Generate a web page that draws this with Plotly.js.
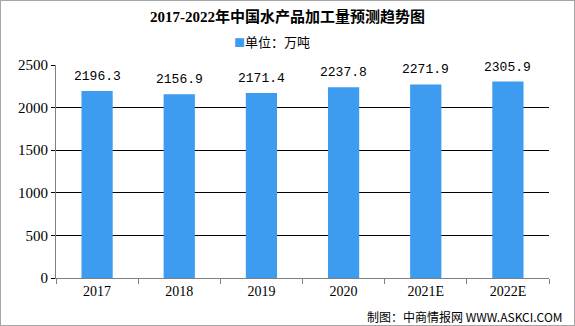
<!DOCTYPE html>
<html><head><meta charset="utf-8">
<script src="https://cdn.plot.ly/plotly-3.0.1.min.js"></script>
<style>
html,body{margin:0;padding:0;background:#fff;}
#wrap{width:575px;height:326px;box-sizing:border-box;border:1px solid #a6a6a6;overflow:hidden;}
#chart{width:573px;height:324px;}
</style></head>
<body><div id="wrap"><div id="chart"></div></div>
<script>
const categories = ["2017","2018","2019","2020","2021E","2022E"];
const values = [2196.3, 2156.9, 2171.4, 2237.8, 2271.9, 2305.9];
const valueLabels = ["2196.3","2156.9","2171.4","2237.8","2271.9","2305.9"];
const yTicks = [0,500,1000,1500,2000,2500];
const seriesName = "单位：万吨";
const titleText = "2017-2022年中国水产品加工量预测趋势图";
const creditText = "制图：中商情报网 WWW.ASKCI.COM";
const barColor = "#3d9bf0";

const trace = {
  type: "bar",
  x: categories,
  y: values,
  name: seriesName,
  marker: {color: barColor},
  width: 0.38,
  showlegend: false
};

const annotations = categories.map((c,i)=>({
  x: i, y: values[i], xref: "x", yref: "y",
  text: valueLabels[i], showarrow: false,
  yanchor: "bottom", yshift: 5,
  font: {family: "Liberation Mono, monospace", size: 13, color: "#000"}
}));
// legend drawn as annotation (compact marker + text like the reference)
annotations.push({
  xref: "paper", yref: "paper", x: 0.358, y: 1.108,
  xanchor: "left", yanchor: "middle",
  text: "<span style='color:" + barColor + ";font-size:11px'>■</span>" + seriesName,
  showarrow: false,
  font: {family: "Noto Sans CJK SC, sans-serif", size: 13, color: "#000"}
});
annotations.push({
  xref: "paper", yref: "paper", x: 1.032, y: -0.183,
  xanchor: "right", yanchor: "middle",
  text: creditText, showarrow: false,
  font: {family: "Noto Sans CJK SC, sans-serif", size: 12, color: "#000"}
});

const layout = {
  width: 573, height: 324,
  margin: {l: 55, r: 25, t: 64, b: 47},
  paper_bgcolor: "#fff", plot_bgcolor: "#fff",
  title: {
    text: "<b>" + titleText + "</b>",
    x: 0.5, xanchor: "center", y: 0.95, yanchor: "middle",
    font: {family: "Liberation Serif, Noto Sans CJK SC, serif", size: 15, color: "#000"}
  },
  showlegend: false,
  xaxis: {
    type: "category",
    range: [-0.5, 5.5],
    showline: true, linecolor: "#808080", linewidth: 1,
    ticks: "outside", tickson: "boundaries", ticklen: 5, tickcolor: "#808080",
    tickfont: {family: "Liberation Serif, serif", size: 14, color: "#000"},
    tickangle: 0,
    showgrid: false, zeroline: false
  },
  yaxis: {
    range: [0, 2500],
    tickvals: yTicks,
    showline: true, linecolor: "#808080", linewidth: 1,
    ticks: "outside", ticklen: 4, tickcolor: "#000",
    showgrid: true, gridcolor: "#000", gridwidth: 1,
    zeroline: false,
    tickfont: {family: "Liberation Serif, serif", size: 15, color: "#000"}
  },
  annotations: annotations
};

Plotly.newPlot("chart", [trace], layout, {displayModeBar: false, staticPlot: true});
</script></body></html>
